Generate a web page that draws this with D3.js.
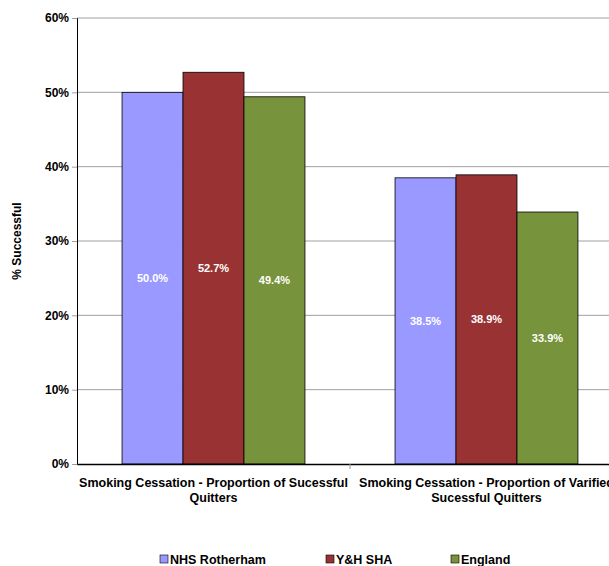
<!DOCTYPE html>
<html><head><meta charset="utf-8">
<script src="https://cdn.jsdelivr.net/npm/d3@7"></script>
<style>body{margin:0;background:#fff}svg{font-family:Arial,"Liberation Sans",sans-serif;font-weight:bold}</style>
</head><body><script>
// chart data
var categories = ["Smoking Cessation - Proportion of Sucessful|Quitters", "Smoking Cessation - Proportion of Varified|Sucessful Quitters"];
var seriesNames = ["NHS Rotherham", "Y&H SHA", "England"];
var seriesColors = ["#9999ff", "#993333", "#77933c"];
var values = [[0.500, 0.527, 0.494], [0.385, 0.389, 0.339]];
var yTicks = [0, 0.1, 0.2, 0.3, 0.4, 0.5, 0.6];

var width = 609, height = 566;
var mLeft = 77, mTop = 18, mBottom = 464, mRight = 623;

var svg = d3.select("body").append("svg").attr("width", width).attr("height", height);

var x = d3.scaleBand().domain(d3.range(categories.length)).range([mLeft, mRight]);
var xInner = d3.scaleBand().domain(d3.range(seriesNames.length)).range([0, x.bandwidth() * 0.67]);
var y = d3.scaleLinear().domain([0, 0.6]).range([mBottom, mTop]);

// gridlines
svg.selectAll("line.grid").data(yTicks.slice(1)).enter().append("line")
  .attr("x1", mLeft).attr("x2", mRight).attr("y1", d => y(d)).attr("y2", d => y(d))
  .attr("stroke", "#a0a0a0").attr("stroke-width", 1);

// bars
var groups = svg.selectAll("g.cat").data(values).enter().append("g")
  .attr("transform", (d, i) => "translate(" + (x(i) + x.bandwidth() * 0.165) + ",0)");
groups.selectAll("rect").data(d => d).enter().append("rect")
  .attr("x", (d, j) => xInner(j)).attr("width", xInner.bandwidth())
  .attr("y", d => y(d)).attr("height", d => mBottom - y(d))
  .attr("fill", (d, j) => seriesColors[j]).attr("stroke", "#000").attr("stroke-width", 0.8);
groups.selectAll("text").data(d => d).enter().append("text")
  .attr("x", (d, j) => xInner(j) + xInner.bandwidth() / 2)
  .attr("y", d => (y(d) + mBottom) / 2 + 4)
  .attr("text-anchor", "middle").attr("fill", "#fff").attr("font-size", 11)
  .text(d => (d * 100).toFixed(1) + "%");

// axes
var yAxis = svg.append("g").attr("transform", "translate(" + mLeft + ",0)")
  .call(d3.axisLeft(y).tickValues(yTicks).tickFormat(d3.format(".0%")).tickSize(5));
yAxis.select(".domain").attr("stroke", "#000");
yAxis.selectAll("line").attr("stroke", "#a0a0a0");
yAxis.selectAll("text").attr("font-size", 12).attr("font-family", "Arial,'Liberation Sans',sans-serif").attr("font-weight", "bold").attr("fill", "#000");

var xAxis = svg.append("g").attr("transform", "translate(0," + mBottom + ")")
  .call(d3.axisBottom(x).tickSize(0).tickFormat(""));
xAxis.select(".domain").attr("stroke", "#000").attr("stroke-width", 1.5);
svg.append("line").attr("x1", mLeft + x.step()).attr("x2", mLeft + x.step())
  .attr("y1", mBottom).attr("y2", mBottom + 5).attr("stroke", "#999");

// category labels
categories.forEach(function(c, i) {
  var cx = x(i) + x.bandwidth() / 2;
  var t = svg.append("text").attr("text-anchor", "middle").attr("font-size", 12.5).attr("y", mBottom + 23);
  c.split("|").forEach(function(line, k) {
    t.append("tspan").attr("x", cx).attr("dy", k ? 15 : 0).text(line);
  });
});

svg.append("text").attr("transform", "translate(21," + (mTop + mBottom) / 2 + ") rotate(-90)")
  .attr("text-anchor", "middle").attr("font-size", 12).text("% Successful");

// legend
var legendX = [160, 326, 451];
seriesNames.forEach(function(s, i) {
  svg.append("rect").attr("x", legendX[i]).attr("y", 555).attr("width", 8).attr("height", 8)
    .attr("fill", seriesColors[i]).attr("stroke", "#000").attr("stroke-width", 0.6);
  svg.append("text").attr("x", legendX[i] + 10).attr("y", 564).attr("font-size", 12.5).text(s);
});
</script></body></html>
